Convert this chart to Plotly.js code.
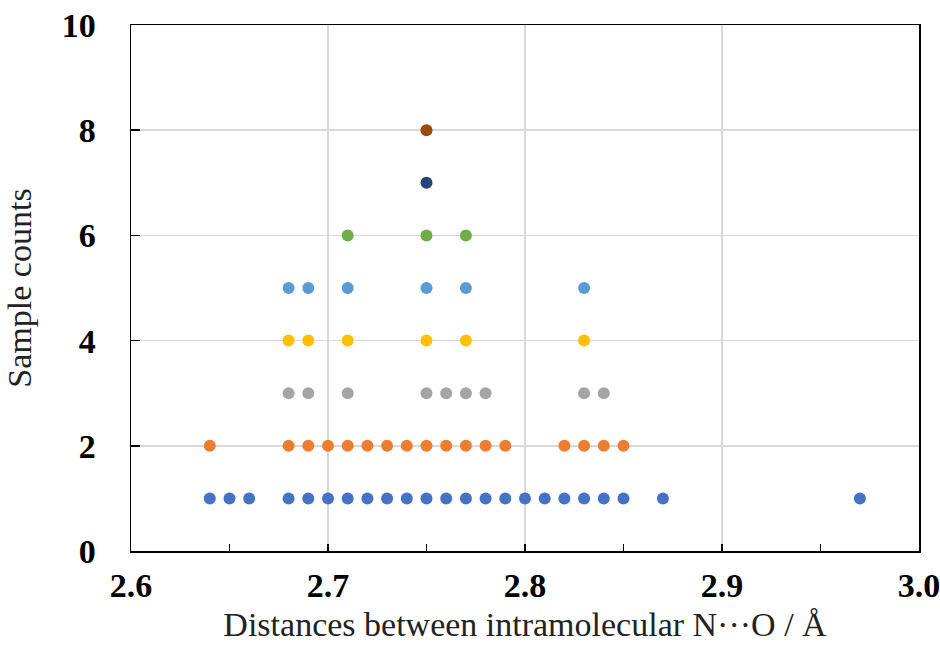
<!DOCTYPE html>
<html>
<head>
<meta charset="utf-8">
<script src="https://cdn.plot.ly/plotly-3.0.1.min.js"></script>
<style>html,body{margin:0;padding:0;background:#fff;}#chart{width:940px;height:646px;}</style>
</head>
<body>
<div id="chart"></div>
<script>
// Distances (Å) at each sample-count level
const level1 = [2.64, 2.65, 2.66, 2.68, 2.69, 2.70, 2.71, 2.72, 2.73, 2.74, 2.75, 2.76, 2.77, 2.78, 2.79, 2.80, 2.81, 2.82, 2.83, 2.84, 2.85, 2.87, 2.97];
const level2 = [2.64, 2.68, 2.69, 2.70, 2.71, 2.72, 2.73, 2.74, 2.75, 2.76, 2.77, 2.78, 2.79, 2.82, 2.83, 2.84, 2.85];
const level3 = [2.68, 2.69, 2.71, 2.75, 2.76, 2.77, 2.78, 2.83, 2.84];
const level4 = [2.68, 2.69, 2.71, 2.75, 2.77, 2.83];
const level5 = [2.68, 2.69, 2.71, 2.75, 2.77, 2.83];
const level6 = [2.71, 2.75, 2.77];
const level7 = [2.75];
const level8 = [2.75];
const counts = [1, 2, 3, 4, 5, 6, 7, 8];
const colors = ['#4472C4', '#ED7D31', '#A5A5A5', '#FFC000', '#5B9BD5', '#70AD47', '#264478', '#9E480E'];
const levels = [level1, level2, level3, level4, level5, level6, level7, level8];
const xTickVals = [2.6, 2.7, 2.8, 2.9, 3.0];
const xTickText = ['2.6', '2.7', '2.8', '2.9', '3.0'];
const yTickVals = [0, 2, 4, 6, 8, 10];

const traces = levels.map((xs, i) => ({
  type: 'scatter',
  mode: 'markers',
  x: xs,
  y: xs.map(() => counts[i]),
  marker: {color: colors[i], size: 12, line: {width: 0}},
  showlegend: false,
  hoverinfo: 'x+y'
}));

const tickFont = {family: '"Liberation Serif", "Times New Roman", serif', size: 34, color: '#000', weight: 'bold'};
const titleFont = {family: '"Liberation Serif", "Times New Roman", serif', size: 34, color: '#222'};

const layout = {
  width: 940, height: 646,
  margin: {l: 131, r: 21, t: 25, b: 95},
  paper_bgcolor: '#fff', plot_bgcolor: '#fff',
  xaxis: {
    range: [2.6, 3.0],
    tickvals: xTickVals, ticktext: xTickText,
    ticks: 'inside', ticklen: 7, tickwidth: 1.5, tickcolor: '#000',
    minor: {dtick: 0.05, tick0: 2.6, ticks: 'inside', ticklen: 7, tickwidth: 1.5, tickcolor: '#000', showgrid: false},
    showgrid: true, gridcolor: '#d9d9d9', gridwidth: 1.5,
    showline: true, linecolor: '#000', linewidth: 1.5, mirror: true,
    zeroline: false,
    tickfont: tickFont,
    ticklabeloverflow: 'allow',
    ticklabelstandoff: 4,
    title: {text: 'Distances between intramolecular N···O / Å', font: titleFont, standoff: 9}
  },
  yaxis: {
    range: [0, 10],
    tickvals: yTickVals,
    ticks: 'inside', ticklen: 9, tickwidth: 1.5, tickcolor: '#000',
    showgrid: true, gridcolor: '#d9d9d9', gridwidth: 1.5,
    showline: true, linecolor: '#000', linewidth: 1.5, mirror: true,
    zeroline: false,
    tickfont: tickFont,
    ticklabeloverflow: 'allow',
    ticklabelstandoff: 27,
    title: {text: 'Sample counts', font: titleFont, standoff: 20}
  }
};

Plotly.newPlot('chart', traces, layout, {displayModeBar: false, staticPlot: true});
</script>
</body>
</html>
